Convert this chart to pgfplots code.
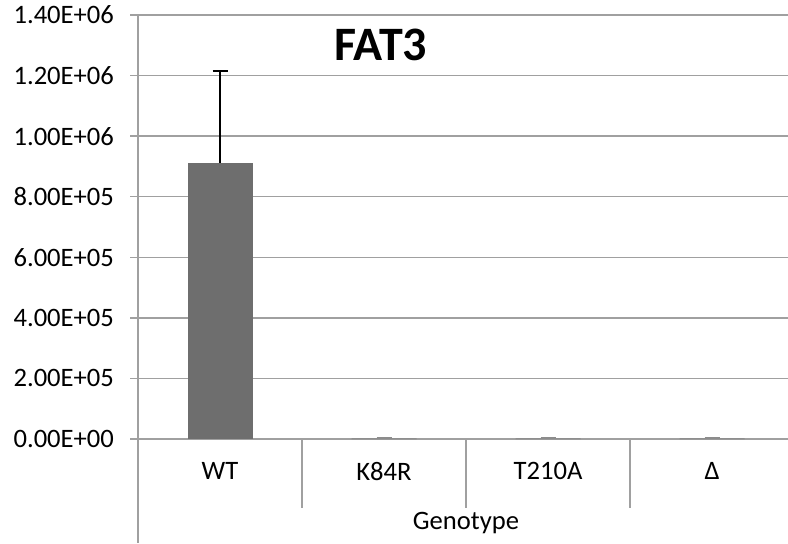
\documentclass[border=0pt]{standalone}
\usepackage{fontspec}
\setmainfont{Carlito}
\usepackage{pgfplots}
\pgfplotsset{compat=1.18}
\definecolor{gridgray}{RGB}{160,160,160}
\definecolor{bargray}{RGB}{110,110,110}
\definecolor{capgray}{RGB}{140,140,140}
\begin{document}
\begin{tikzpicture}
\begin{axis}[
  name=ax,
  scale only axis, width=328pt, height=212pt,
  xmin=-0.5, xmax=3.5, ymin=0, ymax=1400000,
  ytick={0,200000,400000,600000,800000,1000000,1200000,1400000},
  yticklabels={0.00E+00,2.00E+05,4.00E+05,6.00E+05,8.00E+05,1.00E+06,1.20E+06,1.40E+06},
  scaled y ticks=false,
  xtick={0,1,2,3},
  xticklabels={WT,K84R,T210A,Δ},
  xtick style={draw=none},
  tick align=outside,
  major tick length=4pt,
  ytick style={gridgray, line width=0.75pt},
  ymajorgrids, grid style={gridgray, line width=0.75pt},
  axis x line*=bottom, axis y line*=left,
  axis line style={gridgray, line width=0.75pt},
  yticklabel style={font=\fontsize{13.3}{15}\selectfont, anchor=east, xshift=-4.5pt},
  xticklabel style={font=\fontsize{13.3}{15}\selectfont, anchor=center, yshift=-12pt},
  xlabel={Genotype},
  xlabel style={font=\fontsize{13.3}{15}\selectfont, at={(axis description cs:0.5,0)}, anchor=center, yshift=-42pt},
  clip=false,
]
\addplot[ybar, bar width=32.5pt, bar shift=0pt, fill=bargray, draw=none,
  error bars/.cd, y dir=plus, y explicit,
  error bar style={black, line width=0.75pt},
  error mark options={rotate=90, black, mark size=3.75pt, line width=0.75pt}]
  coordinates {(0,911000) +- (0,304000)};
\addplot[ybar, bar width=32.5pt, bar shift=0pt, fill=bargray, draw=none,
  error bars/.cd, y dir=plus, y explicit,
  error bar style={capgray, line width=0.75pt},
  error mark options={rotate=90, capgray, mark size=3.75pt, line width=1pt}]
  coordinates {(1,1500) +- (0,1500) (2,1500) +- (0,1500) (3,1500) +- (0,1500)};
\draw[gridgray, line width=0.75pt] (rel axis cs:0,0) -- ([yshift=-52pt]rel axis cs:0,0);
\draw[gridgray, line width=0.75pt] (axis cs:0.5,0) -- ([yshift=-34.5pt]axis cs:0.5,0);
\draw[gridgray, line width=0.75pt] (axis cs:1.5,0) -- ([yshift=-34.5pt]axis cs:1.5,0);
\draw[gridgray, line width=0.75pt] (axis cs:2.5,0) -- ([yshift=-34.5pt]axis cs:2.5,0);
\node[font=\fontsize{24}{28}\selectfont\bfseries] at (rel axis cs:0.370,0.929) {FAT3};
\end{axis}
\pgfresetboundingbox
\path ([xshift=-69pt,yshift=-52pt]ax.south west) rectangle ([xshift=-3pt,yshift=7.5pt]ax.north east);
\end{tikzpicture}
\end{document}
